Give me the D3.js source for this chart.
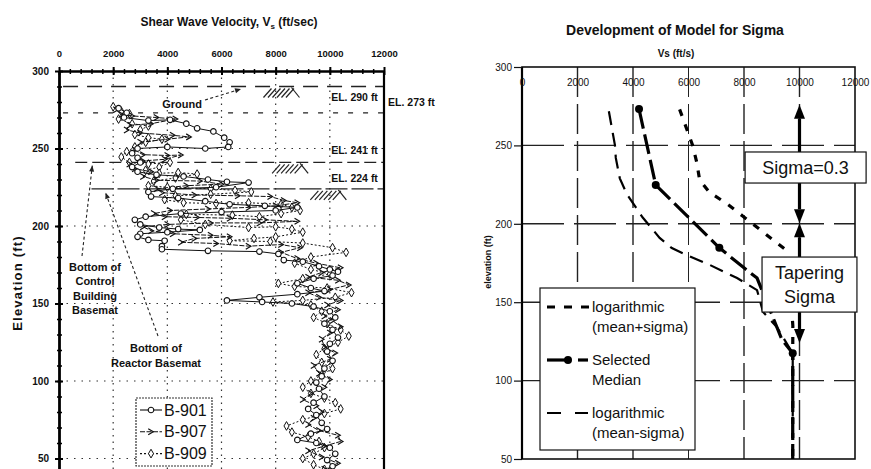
<!DOCTYPE html>
<html>
<head>
<meta charset="utf-8">
<script src="https://cdn.jsdelivr.net/npm/d3@7"></script>
<style>
  body { margin: 0; background: #fff; }
  text { font-family: Arial, "Liberation Sans", sans-serif; fill: #111; }
</style>
</head>
<body>
<svg id="chart" width="871" height="469"></svg>
<script>
// ---------------- Left panel: borehole shear wave velocity profiles ----------------
const velTicks = [0, 2000, 4000, 6000, 8000, 10000, 12000];
const elevTicks = [50, 100, 150, 200, 250, 300];

// [Vs (ft/sec), elevation (ft)]
const b901 = [
  [2200,276],[2500,273],[2400,270],[3300,268],[4100,268.5],[4700,266],[5100,263],[5700,261],
  [6100,257],[6300,254],[6250,251],[5400,250],[4000,251],[2900,250],[2700,247],[2900,244],
  [3000,241],[2700,238],[2900,235],[3600,233],[4600,232],[5500,230],[6200,228.5],[7000,228],
  [5800,225],[4200,224],[3300,222],[3400,219],[4400,218],[5400,216],[6300,214],[7600,213],
  [8800,212],[8000,210],[6000,209],[4500,208],[3200,206],[2800,204],[3000,201],[3700,199],
  [4400,198],[5200,197.5],[4000,196],[3000,195],[2900,193],[3300,191],[3900,190.5],[3800,187],
  [3800,185],[5500,184],[7400,183.5],[8100,182],[8300,178],[9000,177],[9600,174],[10000,172],
  [10300,170.5],[10100,168],[9400,166],[8800,163],[9300,160],[9800,158],[8800,156],[7400,154],
  [6200,152],[7500,151],[8600,150],[9400,148],[10000,145],[10200,141],[9800,137],[10100,133],
  [10300,128],[10000,124],[9900,119],[10100,113],[9800,108],[9700,103],[9500,99],[9600,95],
  [9800,90],[9400,86],[9200,82],[9500,78],[9700,73],[9900,69],[9300,66],[8800,62],[9500,60],
  [10000,57],[10200,53],[9900,49],[10100,45],[10000,42]
];
const b907 = [
  [2100,275],[2300,272],[2700,271],[3600,270],[4300,269],[3400,266],[2600,265],[2500,262],
  [3000,260],[4200,258.5],[4800,257.5],[4000,256],[3000,254],
  [2800,249],[3100,246],[4000,245.5],[4500,245.8],[3900,243],[3100,242],[2600,240],[2800,237],
  [3400,235],[3100,232],[3600,229.5],[5200,229],[6000,227],[4700,226],[3600,224],[3800,221.5],
  [5000,220],[6600,219.5],[7800,219],[8300,216.5],[8800,215],[8000,213],[7000,212],
  [5500,211],[4100,210],[3500,208],[3900,206],[5100,205.5],[6300,205],[7600,204],[8800,203],
  [7400,202],[5600,202],[4000,201],[3100,199.5],[3400,197],[4200,195],[5600,194],[6300,193],
  [5000,192],[4500,189.5],[5800,188.7],[7000,187],[8200,188],[8900,186],[8200,183],[8800,179],
  [9500,176],[10400,173],[9700,170],[9200,167],[10300,165],[10700,162],[10000,159],[9200,157],
  [9600,154],[10400,152],[9900,149],[10300,146],[9800,142],[10100,139],[10400,135],[10000,131],
  [9700,127],[9800,122],[10200,118],[10000,114],[9400,110],[9600,105],[10000,101],[9800,96],
  [9300,92],[9000,88],[9500,84],[9700,80],[9400,76],[9200,72],[9600,68],[10300,65],[10400,61],
  [9800,58],[9200,55],[9700,51],[10300,47],[9800,43]
];
const b909 = [
  [2000,277],[2300,274],[2600,272.5],[2200,269],[2700,266],[3300,264.5],[3000,262],[2800,259],
  [3300,257],[3800,256],[3200,254],[2800,251],[2500,248],[2300,244.5],[2600,241],[3300,240],
  [4100,241],[3700,238],[3200,236],[3700,234],[4400,234.5],[5100,233.5],[4300,231],[3500,229],
  [3300,226],[4000,225],[5600,224],[6500,223],[7100,222],[5600,220.5],[4300,219.5],[3900,217],
  [4600,215],[5800,214.5],[7000,215],[8200,214],[8600,212],[8900,210],[8200,208],[7400,206],
  [6400,207],[4700,207.5],[4500,204],[5400,201],[7000,199],[8000,199.5],[8600,198],[9000,196],
  [8000,193],[7200,192],[6300,190.5],[7800,190],[9000,189],[10100,186],[10600,183],[9300,180],
  [8700,176],[9300,172],[10000,169],[9000,166],[8100,163],[8700,161],[9900,160],[10800,157],
  [10200,154],[9000,152],[7900,151],[9300,149],[9700,145],[9400,141],[9900,137],[10400,133],
  [10700,129],[10300,125],[9800,121],[9500,117],[9700,112],[10100,108],[9700,104],[9300,100],
  [9000,96],[9300,92],[9800,89],[10200,86],[10400,82],[9800,79],[9000,75],[8400,71],[8600,67],
  [9200,64],[9600,61],[9800,57],[9400,53],[9000,50],[9400,46],[9800,43]
];
const boreholeNames = ["B-901", "B-907", "B-909"];

// reference elevations and where each dashed line starts (Vs)
const levelElev = [290, 273, 241, 224];
const levelText = ["EL. 290 ft", "EL. 273 ft", "EL. 241 ft", "EL. 224 ft"];
const levelStartVs = [150, 150, 600, 1200];
const groundMarks = [[7550, 290], [7870, 241], [9280, 224]];

// ---------------- Right panel: sigma model ----------------
const vsTicks = [0, 2000, 4000, 6000, 8000, 10000, 12000];
const elTicks = [50, 100, 150, 200, 250, 300];
const plusSigma = [
  [5680,273],[6150,250],[6300,239],[6400,228],[6760,220],[7370,213],[7950,205],[8740,194],
  [9460,184],[9700,150],[9760,135],[9756,117.4],[9756,50]
];
const median = [
  [4217,273.2],[4819,224.7],[7111,184.7],[7965,172.4],[8470,165.4],[9370,126],[9756,117.4],[9756,50]
];
const medianKnots = [[4217,273.2],[4819,224.7],[7111,184.7],[9756,117.4]];
const minusSigma = [
  [3130,271.8],[3350,250],[3380,242],[3525,229],[3777,219],[4350,204],[4960,191],[5400,184.5],
  [5947,180],[6776,173.7],[7750,165.4],[8470,157.7],[8686,143.8],[9190,134],[9756,117.4],[9756,50]
];
const legendLabels = [["logarithmic", "(mean+sigma)"], ["Selected", "Median"], ["logarithmic", "(mean-sigma)"]];
// annotation boxes (Vs range, elevation range) and arrows (Vs, from elev, to elev)
const sigmaBox = { vs: [8040, 12400], el: [245.8, 226], lines: ["Sigma=0.3"] };
const taperBox = { vs: [8650, 12070], el: [178.8, 143.7], lines: ["Tapering", "Sigma"] };
const arrows = [[10000, 245.8, 276], [10000, 226, 200.3], [10000, 178.8, 200.3], [10000, 143.7, 124]];

// =====================================================================
const W = 871, H = 469;
const svg = d3.select("#chart");
const defs = svg.append("defs");
const plain = d3.format("d");

// ---------------- left panel drawing ----------------
const xL = d3.scaleLinear().domain([0, 12000]).range([59, 384]);
const yL = d3.scaleLinear().domain([0, 300]).range([536, 71]);
defs.append("clipPath").attr("id", "clipL").append("rect")
  .attr("x", xL(0)).attr("y", yL(300)).attr("width", xL(12000) - xL(0)).attr("height", H - yL(300));

const gL = svg.append("g");

// dotted grid
gL.append("g").selectAll("line").data(velTicks.slice(1, -1)).join("line")
  .attr("x1", d => xL(d)).attr("x2", d => xL(d)).attr("y1", yL(300)).attr("y2", H)
  .attr("stroke", "#333").attr("stroke-width", 1.2).attr("stroke-dasharray", "1.5,5");
gL.append("g").selectAll("line").data(elevTicks.slice(0, -1)).join("line")
  .attr("x1", xL(0)).attr("x2", xL(12000)).attr("y1", d => yL(d)).attr("y2", d => yL(d))
  .attr("stroke", "#333").attr("stroke-width", 1.2).attr("stroke-dasharray", "1.5,6");

// reference elevation lines
const levelDash = ["15,9", "5,10", "12,5", "22,4"];
gL.append("g").selectAll("line").data(levelElev).join("line")
  .attr("x1", (d, i) => xL(levelStartVs[i])).attr("x2", xL(12000))
  .attr("y1", d => yL(d)).attr("y2", d => yL(d))
  .attr("stroke", "#222").attr("stroke-width", 1.3)
  .attr("stroke-dasharray", (d, i) => levelDash[i]);

// ground hatch symbols
groundMarks.forEach(([v, e]) => {
  const x0 = xL(v), y0 = yL(e);
  const g = gL.append("g").attr("stroke", "#222").attr("stroke-width", 1.2);
  for (let k = 0; k < 6; k++) {
    g.append("line").attr("x1", x0 + k * 4.5).attr("y1", y0 + 11).attr("x2", x0 + k * 4.5 + 8).attr("y2", y0 + 2);
  }
  g.append("line").attr("x1", x0 + 28).attr("y1", y0 + 1).attr("x2", x0 + 36).attr("y2", y0 + 11);
});

// profiles
const lineL = d3.line().x(d => xL(d[0])).y(d => yL(d[1]));
const dataG = gL.append("g").attr("clip-path", "url(#clipL)");
const seriesStyle = [
  { data: b901, dash: null, marker: "circle" },
  { data: b907, dash: "5,1.5", marker: "chevron" },
  { data: b909, dash: "2,2", marker: "diamond" }
];
function drawMarker(sel, kind) {
  if (kind === "circle") {
    sel.append("circle").attr("r", 2.8).attr("fill", "#fff").attr("stroke", "#111").attr("stroke-width", 1.1);
  } else if (kind === "chevron") {
    sel.append("path").attr("d", "M-2.8,-3L2.3,0L-2.8,3").attr("fill", "none").attr("stroke", "#111").attr("stroke-width", 1.2);
  } else {
    sel.append("path").attr("d", d3.symbol(d3.symbolDiamond, 22)()).attr("fill", "#fff").attr("stroke", "#111").attr("stroke-width", 1);
  }
}
seriesStyle.slice().reverse().forEach(s => {
  dataG.append("path").datum(s.data).attr("d", lineL)
    .attr("fill", "none").attr("stroke", "#111").attr("stroke-width", 1)
    .attr("stroke-dasharray", s.dash);
  dataG.append("g").selectAll("g").data(s.data).join("g")
    .attr("transform", d => `translate(${xL(d[0])},${yL(d[1])})`)
    .each(function () { drawMarker(d3.select(this), s.marker); });
});

// level labels
const levelLabelPos = [[10050, 14.5], [12150, -7], [10050, -8.5], [10050, -7]];
gL.append("g").selectAll("text").data(levelText).join("text")
  .attr("x", (d, i) => xL(levelLabelPos[i][0]))
  .attr("y", (d, i) => yL(levelElev[i]) + levelLabelPos[i][1])
  .attr("font-size", 10.5).attr("font-weight", "bold").text(d => d);

// axes (top and left), thick
const topAxis = gL.append("g").attr("transform", `translate(0,${yL(300)})`)
  .call(d3.axisTop(xL).tickValues(velTicks).tickFormat(plain).tickSize(4).tickSizeOuter(0).tickPadding(10));
topAxis.select(".domain").attr("stroke", "#000").attr("stroke-width", 2.6);
topAxis.selectAll(".tick line").attr("y1", 4).attr("stroke-width", 2);
topAxis.selectAll("text").attr("font-size", 9.5).attr("font-weight", "bold").attr("fill", "#111");
const topMinor = gL.append("g").attr("transform", `translate(0,${yL(300)})`)
  .call(d3.axisBottom(xL).tickValues(d3.range(400, 12000, 400)).tickSize(3).tickSizeOuter(0).tickFormat(""));
topMinor.select(".domain").remove();
topMinor.selectAll(".tick line").attr("y1", -2).attr("stroke-width", 1.5);

const leftAxis = gL.append("g").attr("transform", `translate(${xL(0)},0)`)
  .call(d3.axisLeft(yL).tickValues(elevTicks).tickFormat(plain).tickSize(4).tickSizeOuter(0).tickPadding(6));
leftAxis.select(".domain").attr("stroke", "#000").attr("stroke-width", 2.8);
leftAxis.selectAll(".tick line").attr("x1", 4).attr("stroke-width", 2);
leftAxis.selectAll("text").attr("font-size", 10).attr("font-weight", "bold").attr("fill", "#111");
const leftMinor = gL.append("g").attr("transform", `translate(${xL(0)},0)`)
  .call(d3.axisRight(yL).tickValues(d3.range(10, 300, 10)).tickSize(3).tickSizeOuter(0).tickFormat(""));
leftMinor.select(".domain").remove();
leftMinor.selectAll(".tick line").attr("x1", -2).attr("stroke-width", 1.5);

// right border
gL.append("line").attr("x1", xL(12000)).attr("x2", xL(12000)).attr("y1", yL(300)).attr("y2", H)
  .attr("stroke", "#000").attr("stroke-width", 2.2);

// titles
const t1 = gL.append("text").attr("x", 229).attr("y", 26).attr("text-anchor", "middle")
  .attr("font-size", 12).attr("font-weight", "bold");
t1.append("tspan").text("Shear Wave Velocity, V");
t1.append("tspan").attr("font-size", 8).attr("dy", 3).text("s");
t1.append("tspan").attr("dy", -3).text(" (ft/sec)");
gL.append("text").attr("transform", "translate(22,283) rotate(-90)").attr("text-anchor", "middle")
  .attr("font-size", 13).attr("font-weight", "bold").attr("letter-spacing", 1.2).text("Elevation (ft)");

// annotations
const annG = gL.append("g").attr("font-size", 11).attr("font-weight", "bold").attr("text-anchor", "middle");
["Bottom of", "Control", "Building", "Basemat"].forEach((s, i) =>
  annG.append("text").attr("x", 95).attr("y", 271 + i * 14.4).text(s));
["Bottom of", "Reactor Basemat"].forEach((s, i) =>
  annG.append("text").attr("x", 156).attr("y", 352 + i * 14.5).text(s));
gL.append("text").attr("x", 182).attr("y", 108).attr("text-anchor", "middle")
  .attr("font-size", 11).attr("font-weight", "bold").text("Ground");

function dashedArrow(g, x1, y1, x2, y2) {
  g.append("line").attr("x1", x1).attr("y1", y1).attr("x2", x2).attr("y2", y2)
    .attr("stroke", "#222").attr("stroke-width", 1.1).attr("stroke-dasharray", "3,2.5");
  const a = Math.atan2(y2 - y1, x2 - x1);
  const L = 6, w = 2.5;
  const p = [[x2, y2],
    [x2 - L * Math.cos(a) + w * Math.sin(a), y2 - L * Math.sin(a) - w * Math.cos(a)],
    [x2 - L * Math.cos(a) - w * Math.sin(a), y2 - L * Math.sin(a) + w * Math.cos(a)]];
  g.append("path").attr("d", "M" + p.join("L") + "Z").attr("fill", "#222");
}
dashedArrow(gL, 82, 256, xL(1230), yL(241) + 3);
dashedArrow(gL, 158, 336, xL(1720), yL(224) + 4);
dashedArrow(gL, 205, 100, 241, 89);

// left legend
const lg = gL.append("g").attr("transform", "translate(136,398)");
lg.append("rect").attr("width", 76).attr("height", 68).attr("fill", "#fff")
  .attr("stroke", "#333").attr("stroke-width", 1.2).attr("stroke-dasharray", "2,1");
boreholeNames.forEach((name, i) => {
  const y = 12 + i * 21.8;
  lg.append("line").attr("x1", 4).attr("x2", 26).attr("y1", y).attr("y2", y)
    .attr("stroke", "#111").attr("stroke-width", 1.1).attr("stroke-dasharray", seriesStyle[i].dash);
  const m = lg.append("g").attr("transform", `translate(15,${y})`);
  drawMarker(m, seriesStyle[i].marker);
  lg.append("text").attr("x", 28).attr("y", y + 5.5).attr("font-size", 16).text(name);
});

// ---------------- right panel drawing ----------------
const xR = d3.scaleLinear().domain([0, 12000]).range([522, 855]);
const yR = d3.scaleLinear().domain([50, 300]).range([459, 67]);
const gR = svg.append("g");

// dashed grid
gR.append("g").selectAll("line").data(vsTicks.slice(1, -1)).join("line")
  .attr("x1", d => xR(d)).attr("x2", d => xR(d)).attr("y1", yR(300)).attr("y2", yR(50))
  .attr("stroke", "#222").attr("stroke-width", d => d === 6000 ? 1 : 1.4).attr("stroke-dasharray", "30,7");
gR.append("g").selectAll("line").data(elTicks.slice(1, -1)).join("line")
  .attr("x1", xR(0)).attr("x2", xR(12000)).attr("y1", d => yR(d)).attr("y2", d => yR(d))
  .attr("stroke", "#222").attr("stroke-width", 1.4).attr("stroke-dasharray", "42,10");

// frame
gR.append("rect").attr("x", xR(0)).attr("y", yR(300)).attr("width", xR(12000) - xR(0)).attr("height", yR(50) - yR(300))
  .attr("fill", "none").attr("stroke", "#111").attr("stroke-width", 1.6);
gR.append("line").attr("x1", xR(0)).attr("x2", xR(0)).attr("y1", yR(300)).attr("y2", yR(50))
  .attr("stroke", "#000").attr("stroke-width", 2.2);

// axes
const rTop = gR.append("g").attr("transform", `translate(0,${yR(300)})`)
  .call(d3.axisBottom(xR).tickValues(vsTicks).tickFormat(plain).tickSize(0).tickPadding(12));
rTop.select(".domain").remove();
rTop.selectAll("text").attr("font-size", 10).attr("fill", "#111");
const rLeft = gR.append("g").attr("transform", `translate(${xR(0)},0)`)
  .call(d3.axisLeft(yR).tickValues(elTicks).tickFormat(plain).tickSize(8).tickSizeOuter(0).tickPadding(2));
rLeft.select(".domain").remove();
rLeft.selectAll(".tick line").attr("stroke", "#111").attr("stroke-width", 1.2);
rLeft.selectAll("text").attr("font-size", 10).attr("fill", "#111");

gR.append("text").attr("x", 675).attr("y", 35).attr("text-anchor", "middle")
  .attr("font-size", 14).attr("font-weight", "bold").text("Development of Model for Sigma");
gR.append("text").attr("x", 676).attr("y", 57).attr("text-anchor", "middle")
  .attr("font-size", 10).attr("font-weight", "bold").text("Vs (ft/s)");
gR.append("text").attr("transform", "translate(491,262) rotate(-90)").attr("text-anchor", "middle")
  .attr("font-size", 9).attr("font-weight", "bold").text("elevation (ft)");

// model curves
const lineR = d3.line().x(d => xR(d[0])).y(d => yR(d[1]));
const curveStyles = [
  { data: minusSigma, width: 2.2, dash: "14,8" },
  { data: plusSigma, width: 3.2, dash: "7,9" },
  { data: median, width: 3.2, dash: "20,6" }
];
curveStyles.forEach(s => {
  gR.append("path").datum(s.data).attr("d", lineR).attr("fill", "none")
    .attr("stroke", "#000").attr("stroke-width", s.width).attr("stroke-dasharray", s.dash);
});
gR.append("g").selectAll("circle").data(medianKnots).join("circle")
  .attr("cx", d => xR(d[0])).attr("cy", d => yR(d[1])).attr("r", 4).attr("fill", "#000");

// arrows
function solidArrow(g, vs, fromEl, toEl) {
  const x = xR(vs), y1 = yR(fromEl), y2 = yR(toEl);
  const dir = Math.sign(y2 - y1);
  const L = 14, w = 5.5;
  g.append("line").attr("x1", x).attr("x2", x).attr("y1", y1).attr("y2", y2 - dir * L)
    .attr("stroke", "#000").attr("stroke-width", 3.2);
  g.append("path").attr("d", `M${x},${y2}L${x - w},${y2 - dir * L}L${x + w},${y2 - dir * L}Z`).attr("fill", "#000");
}
arrows.forEach(a => solidArrow(gR, a[0], a[1], a[2]));

// annotation boxes
[sigmaBox, taperBox].forEach(b => {
  const x0 = xR(b.vs[0]), x1 = xR(b.vs[1]), y0 = yR(b.el[0]), y1 = yR(b.el[1]);
  gR.append("rect").attr("x", x0).attr("y", y0).attr("width", x1 - x0).attr("height", y1 - y0)
    .attr("fill", "#fff").attr("stroke", "#111").attr("stroke-width", 1.2);
  const n = b.lines.length;
  b.lines.forEach((s, i) => {
    gR.append("text").attr("x", (x0 + x1) / 2).attr("y", (y0 + y1) / 2 + 6.5 + (i - (n - 1) / 2) * 24)
      .attr("text-anchor", "middle").attr("font-size", 18).text(s);
  });
});

// legend
const rl = gR.append("g").attr("transform", "translate(540,288)");
rl.append("rect").attr("width", 155).attr("height", 162).attr("fill", "#fff")
  .attr("stroke", "#111").attr("stroke-width", 1.2);
const legendRows = [19, 72, 125];
legendRows.forEach((y, i) => {
  if (i === 0) {
    rl.append("line").attr("x1", 7).attr("x2", 50).attr("y1", y).attr("y2", y)
      .attr("stroke", "#000").attr("stroke-width", 3.2).attr("stroke-dasharray", "8,9");
  } else if (i === 1) {
    rl.append("line").attr("x1", 7).attr("x2", 28).attr("y1", y).attr("y2", y)
      .attr("stroke", "#000").attr("stroke-width", 3.2);
    rl.append("circle").attr("cx", 28).attr("cy", y).attr("r", 4).attr("fill", "#000");
    rl.append("line").attr("x1", 38).attr("x2", 48).attr("y1", y).attr("y2", y)
      .attr("stroke", "#000").attr("stroke-width", 3.2);
  } else {
    rl.append("line").attr("x1", 7).attr("x2", 48).attr("y1", y).attr("y2", y)
      .attr("stroke", "#000").attr("stroke-width", 2.2).attr("stroke-dasharray", "14,14");
  }
  legendLabels[i].forEach((s, j) => {
    rl.append("text").attr("x", 52).attr("y", y + 5 + j * 20).attr("font-size", 15).text(s);
  });
});
</script>
</body>
</html>
